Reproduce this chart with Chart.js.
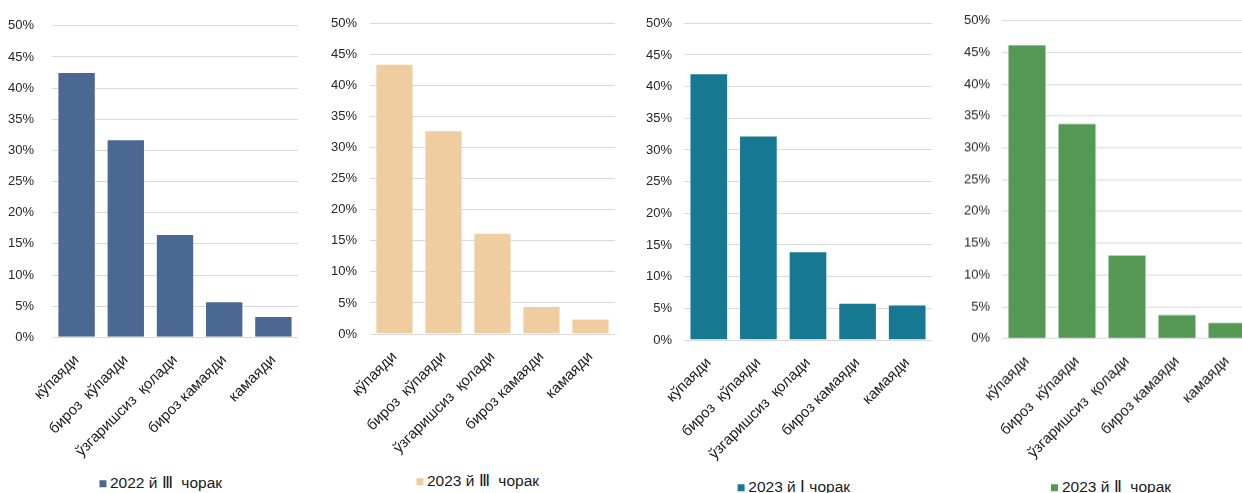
<!DOCTYPE html>
<html>
<head>
<meta charset="utf-8">
<script src="https://cdn.jsdelivr.net/npm/chart.js@4/dist/chart.umd.min.js"></script>
<style>
  html, body { margin: 0; padding: 0; background: #fff; overflow: hidden; }
  body { width: 1242px; height: 493px; position: relative; font-family: 'Liberation Sans', Arial, sans-serif; }
  .box { position: absolute; top: 0; }
  .legend { position: absolute; transform: translate(-50%, -50%); white-space: pre; font-size: 15.5px; color: #1a1a1a; line-height: 1; }
  .legend i { display: inline-block; width: 7px; height: 7px; margin-right: 4px; vertical-align: 1px; }
</style>
</head>
<body>
<div class="box" id="b1"><canvas id="c1"></canvas></div>
<div class="box" id="b2"><canvas id="c2"></canvas></div>
<div class="box" id="b3"><canvas id="c3"></canvas></div>
<div class="box" id="b4"><canvas id="c4"></canvas></div>
<script>
const categories = ['кўпаяди', 'бироз  кўпаяди', 'ўзгаришсиз  қолади', 'бироз камаяди', 'камаяди'];
const q3of2022 = [42.6, 31.8, 16.6, 5.8, 3.4];
const q3of2023 = [43.5, 32.8, 16.3, 4.5, 2.5];
const q1of2023 = [42.1, 32.3, 14.0, 5.9, 5.6];
const q2of2023 = [46.3, 33.9, 13.2, 3.8, 2.6];
const seriesNames = ['2022 й Ⅲ  чорак', '2023 й Ⅲ  чорак', '2023 й Ⅰ чорак', '2023 й Ⅱ  чорак'];
const seriesColors = ['#4a6891', '#f0cda1', '#177891', '#549854'];
const yMax = 50;
const yStep = 5;

const FONT = "'Liberation Sans', Arial, sans-serif";

// left, width, plot bottom, pad left / top, y tick gap, legend centre
const boxes = [
  {left: 0,   width: 298, bottom: 337.3, pl: 4,  pt: 22.7, gap: 18, lx: 160.5, ly: 482.7},
  {left: 310, width: 305, bottom: 334,   pl: 12, pt: 23.3, gap: 13, lx: 477.5, ly: 480.7},
  {left: 630, width: 302, bottom: 340,   pl: 6,  pt: 23.3, gap: 12, lx: 793.7, ly: 487},
  {left: 940, width: 312, bottom: 337.7, pl: 14, pt: 20.7, gap: 12, lx: 1111, ly: 486.7},
];
const seriesValues = [q3of2022, q3of2023, q1of2023, q2of2023];
const yAxisWidth = 48;
const xAxisHeight = 130;

function htmlLegend(chart, b) {
  const div = document.createElement('div');
  div.className = 'legend';
  div.style.left = b.lx + 'px';
  div.style.top = b.ly + 'px';
  chart.data.datasets.forEach(ds => {
    const sw = document.createElement('i');
    sw.style.background = ds.backgroundColor;
    div.appendChild(sw);
    div.appendChild(document.createTextNode(ds.label));
  });
  document.body.appendChild(div);
}

function makeChart(i) {
  const b = boxes[i];
  const wrap = document.getElementById('b' + (i + 1));
  wrap.style.left = b.left + 'px';
  wrap.style.width = b.width + 'px';
  wrap.style.height = (b.bottom + xAxisHeight) + 'px';

  const chart = new Chart(document.getElementById('c' + (i + 1)), {
    type: 'bar',
    data: {
      labels: categories,
      datasets: [{
        label: seriesNames[i],
        data: seriesValues[i],
        backgroundColor: seriesColors[i],
        borderColor: 'rgba(255,255,255,0.35)',
        borderWidth: 1,
        categoryPercentage: 1,
        barPercentage: 0.78,
      }]
    },
    options: {
      responsive: true,
      maintainAspectRatio: false,
      animation: false,
      devicePixelRatio: 1,
      layout: {
        padding: {left: b.pl, top: b.pt, right: 0, bottom: 0}
      },
      plugins: {
        tooltip: {enabled: false},
        legend: {display: false}
      },
      scales: {
        x: {
          grid: {display: false},
          border: {display: false},
          ticks: {
            autoSkip: false,
            minRotation: 45,
            maxRotation: 45,
            padding: 6,
            color: '#1a1a1a',
            font: {family: FONT, size: 15},
          },
          afterFit: function(scale) { scale.height = xAxisHeight; }
        },
        y: {
          min: 0,
          max: yMax,
          grid: {color: '#d9d9d9', lineWidth: 1, drawTicks: false},
          border: {display: false},
          ticks: {
            stepSize: yStep,
            padding: b.gap,
            color: '#262626',
            font: {family: FONT, size: 13},
            callback: function(v) { return v + '%'; }
          },
          afterFit: function(scale) { scale.width = yAxisWidth; }
        }
      }
    }
  });
  htmlLegend(chart, b);
  return chart;
}

for (let i = 0; i < 4; i++) makeChart(i);
</script>
</body>
</html>
